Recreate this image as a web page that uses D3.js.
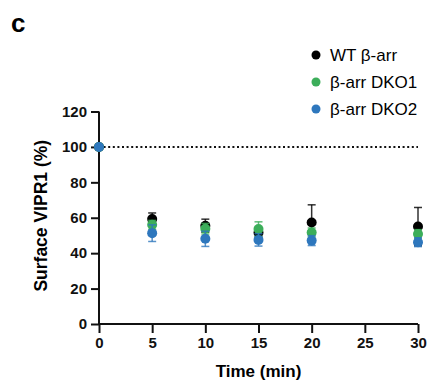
<!DOCTYPE html>
<html>
<head>
<meta charset="utf-8">
<script src="https://cdn.jsdelivr.net/npm/d3@7"></script>
<style>
  body { margin: 0; background: #fff; }
  svg { font-family: "Liberation Sans", Arial, sans-serif; }
</style>
</head>
<body>
<svg width="429" height="381"></svg>
<script>
const times = [0, 5, 10, 15, 20, 30];
const seriesNames = ["WT β-arr", "β-arr DKO1", "β-arr DKO2"];
const seriesColors = ["#000000", "#3cae5a", "#2e77bd"];
const wtMean = [100, 59.3, 55.5, 51.5, 57.3, 55.0];
const wtErr = [0, 3.4, 3.7, 2.5, 10.0, 10.8];
const dko1Mean = [100, 56.0, 53.8, 53.6, 51.7, 50.8];
const dko1Err = [0, 2.5, 3.0, 4.1, 2.5, 2.5];
const dko2Mean = [100, 51.3, 48.1, 47.5, 47.1, 46.2];
const dko2Err = [0, 4.7, 4.3, 3.5, 2.8, 2.5];
const xTicks = [0, 5, 10, 15, 20, 25, 30];
const yTicks = [0, 20, 40, 60, 80, 100, 120];

const series = [
    {name: seriesNames[0], color: seriesColors[0], mean: wtMean, err: wtErr},
    {name: seriesNames[1], color: seriesColors[1], mean: dko1Mean, err: dko1Err},
    {name: seriesNames[2], color: seriesColors[2], mean: dko2Mean, err: dko2Err},
];

const svg = d3.select("svg");

const x = d3.scaleLinear().domain([0, 30]).range([99, 418]);
const y = d3.scaleLinear().domain([0, 120]).range([324, 111.5]);

// panel letter
svg.append("text")
    .attr("x", 11).attr("y", 32)
    .style("font-size", "26px").style("font-weight", "bold")
    .text("c");

// axes
const xAxis = svg.append("g")
    .attr("transform", `translate(0,${y(0)})`)
    .call(d3.axisBottom(x).tickValues(xTicks).tickSize(9).tickPadding(4));
const yAxis = svg.append("g")
    .attr("transform", `translate(${x(0)},0)`)
    .call(d3.axisLeft(y).tickValues(yTicks).tickSize(8).tickPadding(4));

[xAxis, yAxis].forEach(g => {
    g.select(".domain").attr("stroke", "#111").attr("stroke-width", 2);
    g.selectAll(".tick line").attr("stroke", "#111").attr("stroke-width", 2);
    g.selectAll(".tick text")
        .attr("fill", "#111")
        .style("font-size", "15px").style("font-weight", "bold")
        .style("font-family", "'Liberation Sans', Arial, sans-serif");
});
yAxis.select(".domain").attr("d", `M0,${y(120)}V${y(0)}`);
xAxis.select(".domain").attr("d", `M${x(0)},0H${x(30)}`);

// axis labels
svg.append("text")
    .attr("x", (x(0) + x(30)) / 2).attr("y", 377)
    .attr("text-anchor", "middle")
    .style("font-size", "17px").style("font-weight", "bold")
    .text("Time (min)");

svg.append("text")
    .attr("transform", `translate(47,${y(60) - 2}) rotate(-90)`)
    .attr("text-anchor", "middle")
    .style("font-size", "17.5px").style("font-weight", "bold")
    .text("Surface VIPR1 (%)");

// 100% reference line
svg.append("line")
    .attr("x1", x(0)).attr("x2", x(30))
    .attr("y1", y(100)).attr("y2", y(100))
    .attr("stroke", "#111").attr("stroke-width", 2)
    .attr("stroke-dasharray", "2,2.6");

// error bars + points
series.forEach(s => {
    const g = svg.append("g");
    const pts = times.map((t, i) => ({t, m: s.mean[i], e: s.err[i]})).filter(d => d.e > 0);
    g.selectAll("line.v").data(pts).enter().append("line")
        .attr("x1", d => x(d.t)).attr("x2", d => x(d.t))
        .attr("y1", d => y(d.m + d.e)).attr("y2", d => y(d.m - d.e))
        .attr("stroke", s.color).attr("stroke-width", 1.5).attr("opacity", 0.8);
    ["+", "-"].forEach(sign => {
        g.selectAll(null).data(pts).enter().append("line")
            .attr("x1", d => x(d.t) - 4).attr("x2", d => x(d.t) + 4)
            .attr("y1", d => y(sign === "+" ? d.m + d.e : d.m - d.e))
            .attr("y2", d => y(sign === "+" ? d.m + d.e : d.m - d.e))
            .attr("stroke", s.color).attr("stroke-width", 1.5).attr("opacity", 0.8);
    });
    g.selectAll("circle").data(times.map((t, i) => ({t, m: s.mean[i]}))).enter().append("circle")
        .attr("cx", d => x(d.t)).attr("cy", d => y(d.m))
        .attr("r", 5)
        .attr("fill", s.color);
});

// legend
const legend = svg.append("g");
series.forEach((s, i) => {
    legend.append("circle")
        .attr("cx", 316).attr("cy", 55 + i * 27)
        .attr("r", 4.5).attr("fill", s.color);
    legend.append("text")
        .attr("x", 330).attr("y", 55 + i * 27 + 6)
        .style("font-size", "17px")
        .text(s.name);
});
</script>
</body>
</html>
